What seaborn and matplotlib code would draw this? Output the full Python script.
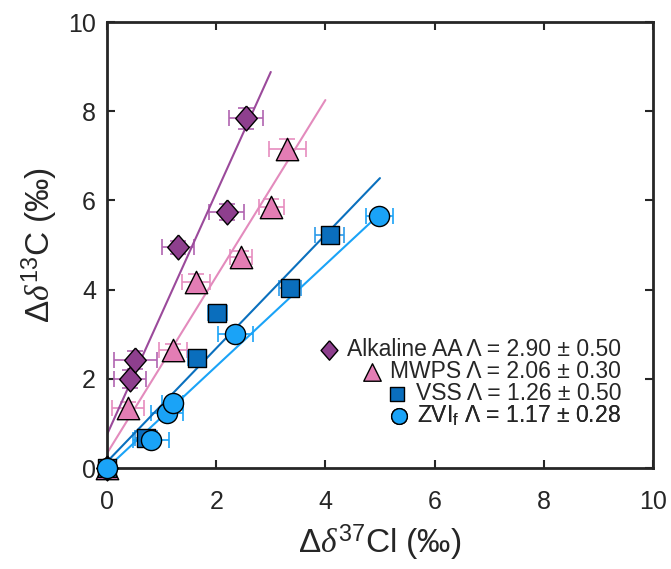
import numpy as np
import pandas as pd
import seaborn as sns
import matplotlib.pyplot as plt

# values (per mil)
alk_x = [0.0, 0.42, 0.52, 1.30, 2.19, 2.54]
alk_y = [0.0, 2.00, 2.42, 4.95, 5.73, 7.84]
alk_xe = [0.08, 0.30, 0.40, 0.30, 0.32, 0.31]
alk_ye = [0.05, 0.20, 0.20, 0.15, 0.18, 0.23]

mwps_x = [0.0, 0.39, 1.21, 1.63, 2.46, 3.01, 3.30]
mwps_y = [0.0, 1.34, 2.65, 4.18, 4.74, 5.86, 7.15]
mwps_xe = [0.08, 0.29, 0.26, 0.26, 0.20, 0.23, 0.34]
mwps_ye = [0.05, 0.15, 0.12, 0.18, 0.12, 0.18, 0.22]

vss_x = [0.0, 0.71, 1.65, 2.02, 3.35, 4.08]
vss_y = [0.0, 0.67, 2.46, 3.47, 4.03, 5.22]
vss_xe = [0.08, 0.20, 0.17, 0.17, 0.20, 0.27]
vss_ye = [0.05, 0.12, 0.12, 0.15, 0.12, 0.12]

zvi_x = [0.0, 0.80, 1.10, 1.20, 2.35, 4.99]
zvi_y = [0.0, 0.63, 1.23, 1.46, 3.00, 5.65]
zvi_xe = [0.08, 0.33, 0.30, 0.20, 0.32, 0.24]
zvi_ye = [0.05, 0.12, 0.12, 0.12, 0.12, 0.12]

# regression lines (end points)
fit_x = {'alk': [0.0, 3.0], 'mwps': [0.0, 4.0], 'vss': [0.0, 5.0], 'zvi': [0.0, 5.0]}
fit_y = {'alk': [0.75, 8.88], 'mwps': [0.33, 8.25], 'vss': [0.14, 6.50], 'zvi': [0.0, 5.70]}

labels = {
    'alk': 'Alkaline AA Λ = 2.90 ± 0.50',
    'mwps': 'MWPS Λ = 2.06 ± 0.30',
    'vss': 'VSS Λ = 1.26 ± 0.50',
    'zvi': r'ZVI$_\mathrm{f}$ Λ = 1.17 ± 0.28',
}

groups = {
    'alk': (alk_x, alk_y, alk_xe, alk_ye),
    'mwps': (mwps_x, mwps_y, mwps_xe, mwps_ye),
    'vss': (vss_x, vss_y, vss_xe, vss_ye),
    'zvi': (zvi_x, zvi_y, zvi_xe, zvi_ye),
}

# MATLAB-style diamond is a bit taller than wide
diamond = [(0, 1), (0.87, 0), (0, -1), (-0.87, 0), (0, 1)]

face = {'alk': '#8E3F8E', 'mwps': '#E37DB4', 'vss': '#0A6EBD', 'zvi': '#1AA3F7'}
errc = {'alk': '#B064B0', 'mwps': '#E68CBF', 'vss': '#2B9BEA', 'zvi': '#1AA3F7'}
linec = {'alk': '#9B4A9B', 'mwps': '#E38BBD', 'vss': '#0A70BE', 'zvi': '#1AA3F7'}
marker = {'alk': diamond, 'mwps': '^', 'vss': 's', 'zvi': 'o'}
msize = {'alk': 320, 'mwps': 260, 'vss': 175, 'zvi': 210}

sns.set_style('ticks')
plt.rcParams['font.family'] = ['Liberation Sans', 'DejaVu Sans']
plt.rcParams['mathtext.fontset'] = 'custom'
plt.rcParams['mathtext.rm'] = 'Liberation Sans'
plt.rcParams['mathtext.it'] = 'Liberation Serif:italic'

fig = plt.figure(figsize=(6.71, 5.69), dpi=100)
ax = fig.add_axes([0.1595, 0.1775, 0.8135, 0.7838])

handles = {}
for key, (x, y, xe, ye) in groups.items():
    df = pd.DataFrame({'x': x, 'y': y})
    fl = pd.DataFrame({'x': fit_x[key], 'y': fit_y[key]})
    sns.lineplot(data=fl, x='x', y='y', color=linec[key], lw=1.5,
                 estimator=None, ax=ax, zorder=2)
    ax.errorbar(x, y, xerr=xe, yerr=ye, fmt='none', ecolor=errc[key],
                elinewidth=1.2, capsize=5.5, capthick=1.2, zorder=1.5)
    sns.scatterplot(data=df, x='x', y='y', marker=marker[key], s=msize[key],
                    color=face[key], edgecolor='black', linewidth=1.0,
                    ax=ax, zorder=3, clip_on=False)
    handles[key] = ax.collections[-1]

ax.set_xlim(0, 10)
ax.set_ylim(0, 10)
ax.set_xticks([0, 2, 4, 6, 8, 10])
ax.set_yticks([0, 2, 4, 6, 8, 10])
ax.tick_params(direction='in', length=6, width=1.5, top=True, right=True,
               labelsize=18, colors='#262626', pad=8)
ax.tick_params(axis='x', pad=16)
for sp in ax.spines.values():
    sp.set_linewidth(2)
    sp.set_color('#262626')

ax.set_xlabel(r'$\Delta\mathit{\delta}^{37}$Cl (‰)', fontsize=24, color='#262626', labelpad=6)
ax.set_ylabel(r'$\Delta\mathit{\delta}^{13}$C (‰)', fontsize=24, color='#262626', labelpad=6)

# MATLAB-like legend: right-aligned rows
rows_y = {'alk': 0.265, 'mwps': 0.216, 'vss': 0.167, 'zvi': 0.118}
for key in ['alk', 'mwps', 'vss', 'zvi']:
    leg = ax.legend(handles=[handles[key]], labels=[labels[key]],
                    loc='center right', bbox_to_anchor=(0.942, rows_y[key]),
                    frameon=False, borderpad=0, borderaxespad=0,
                    handletextpad=0.3, handlelength=1.0, fontsize=16.5,
                    markerscale=0.78)
    ax.add_artist(leg)

plt.savefig('out.png', dpi=100)
